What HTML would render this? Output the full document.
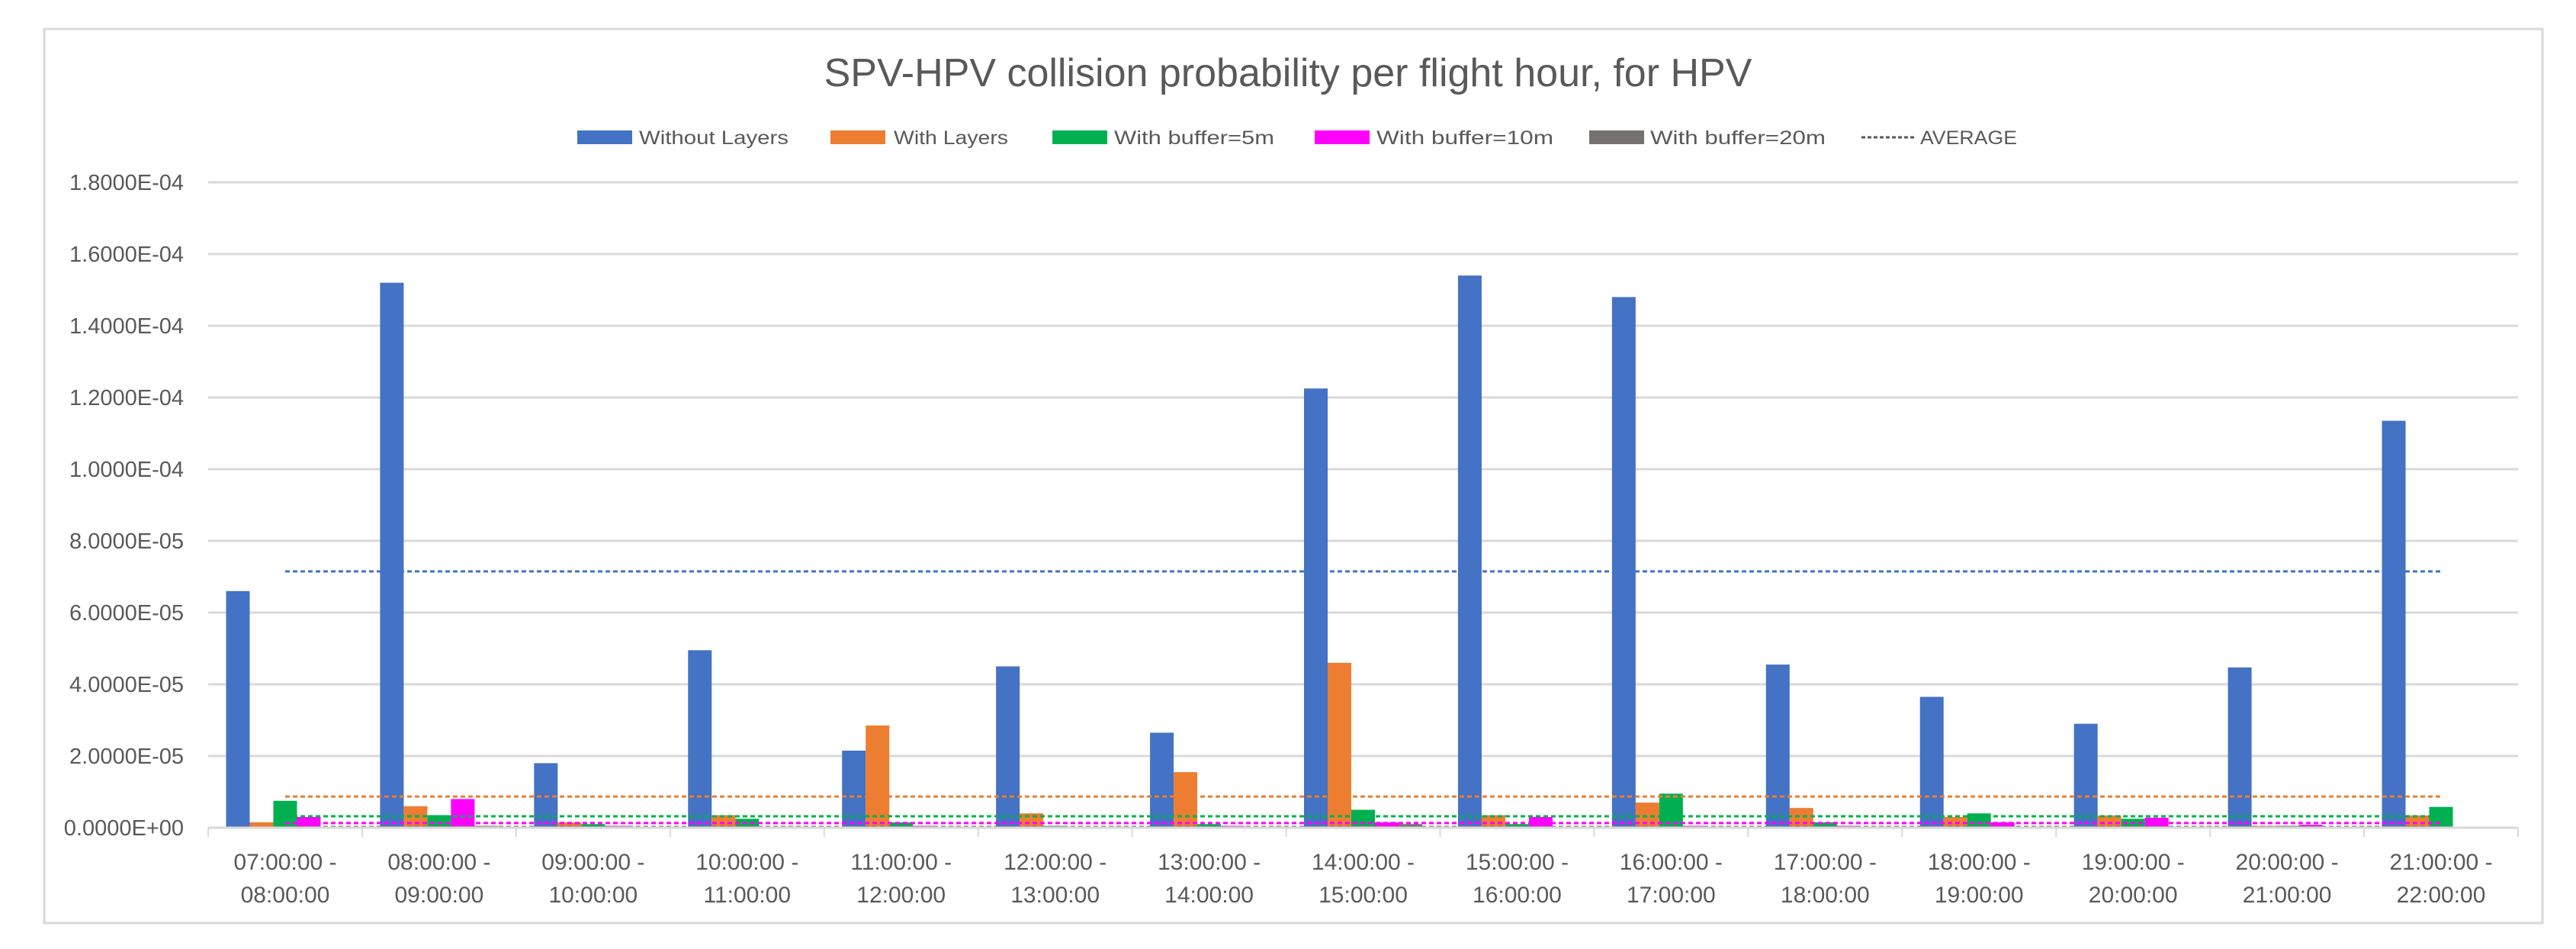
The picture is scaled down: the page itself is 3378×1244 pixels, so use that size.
<!DOCTYPE html>
<html><head><meta charset="utf-8"><style>
html,body{margin:0;padding:0;background:#fff;}
svg{display:block;font-family:"Liberation Sans",sans-serif;}
</style></head><body>
<svg id="chart" width="3378" height="1244" viewBox="0 0 3378 1244" xmlns="http://www.w3.org/2000/svg">
<rect x="58" y="38" width="3276" height="1172" fill="#fff" stroke="#d9d9d9" stroke-width="3"/>
<text x="1689" y="113" text-anchor="middle" font-size="52" fill="#595959">SPV-HPV collision probability per flight hour, for HPV</text>
<g id="legend"></g>
<g id="grid"></g>
<g id="yaxis"></g>
<g id="bars"></g>
<g id="avgs"></g>
<g id="xaxis"></g>
</svg>
<script>
const categories = ["07:00:00 - 08:00:00","08:00:00 - 09:00:00","09:00:00 - 10:00:00","10:00:00 - 11:00:00","11:00:00 - 12:00:00","12:00:00 - 13:00:00","13:00:00 - 14:00:00","14:00:00 - 15:00:00","15:00:00 - 16:00:00","16:00:00 - 17:00:00","17:00:00 - 18:00:00","18:00:00 - 19:00:00","19:00:00 - 20:00:00","20:00:00 - 21:00:00","21:00:00 - 22:00:00"];
const withoutLayers = [6.6e-5,15.2e-5,1.8e-5,4.95e-5,2.15e-5,4.5e-5,2.65e-5,12.25e-5,15.4e-5,14.8e-5,4.55e-5,3.65e-5,2.9e-5,4.47e-5,11.35e-5];
const withLayers = [0.15e-5,0.6e-5,0.15e-5,0.35e-5,2.85e-5,0.4e-5,1.55e-5,4.6e-5,0.35e-5,0.7e-5,0.55e-5,0.3e-5,0.34e-5,0.05e-5,0.34e-5];
const buffer5 = [0.75e-5,0.35e-5,0.1e-5,0.25e-5,0.15e-5,0.05e-5,0.1e-5,0.5e-5,0.1e-5,0.95e-5,0.15e-5,0.4e-5,0.25e-5,0.05e-5,0.58e-5];
const buffer10 = [0.3e-5,0.8e-5,0.05e-5,0.02e-5,0.05e-5,0.02e-5,0.05e-5,0.15e-5,0.3e-5,0.05e-5,0.05e-5,0.15e-5,0.28e-5,0.08e-5,0.0];
const buffer20 = [0.0,0.05e-5,0.0,0.0,0.0,0.0,0.0,0.1e-5,0.0,0.0,0.0,0.0,0.0,0.0,0.0];
const averages = [7.15e-5,0.87e-5,0.32e-5,0.13e-5,0.02e-5];
const yTicks = [0,2e-5,4e-5,6e-5,8e-5,1e-4,1.2e-4,1.4e-4,1.6e-4,1.8e-4];
const yTickLabels = ["0.0000E+00","2.0000E-05","4.0000E-05","6.0000E-05","8.0000E-05","1.0000E-04","1.2000E-04","1.4000E-04","1.6000E-04","1.8000E-04"];
const seriesNames = ["Without Layers","With Layers","With buffer=5m","With buffer=10m","With buffer=20m"];

const colors = ["#4472c4","#ed7d31","#00b050","#ff00ff","#767171"];
const NS="http://www.w3.org/2000/svg";
const X0=273, X1=3302, Y0=1085, YTOP=239, YMAX=1.8e-4;
const catW=(X1-X0)/categories.length;
const y=v=>Y0-(v/YMAX)*(Y0-YTOP);
const xc=i=>X0+catW*(i+0.5);
function mk(tag,attrs,parent){const e=document.createElementNS(NS,tag);for(const k in attrs)e.setAttribute(k,attrs[k]);parent.appendChild(e);return e;}

const grid=document.getElementById('grid'), yax=document.getElementById('yaxis');
yTicks.forEach((t,i)=>{
  if(i>0){const l=mk('line',{x1:X0,x2:X1,y1:y(t),y2:y(t),stroke:'#d9d9d9','stroke-width':3},grid);
  
  }
  const tx=mk('text',{x:241,y:y(t)+10,'text-anchor':'end','font-size':29,fill:'#595959'},yax);
  tx.textContent=yTickLabels[i];
  
  
});

const series=[withoutLayers,withLayers,buffer5,buffer10,buffer20];
const bars=document.getElementById('bars');
const bw=31, groupW=bw*5;
categories.forEach((c,i)=>{
  series.forEach((s,k)=>{
    const x=xc(i)-groupW/2+k*bw, top=y(s[i]);
    const r=mk('rect',{x:x,y:top,width:bw,height:Math.max(0,Y0-top),fill:colors[k]},bars);
    
    
  });
});

const avgs=document.getElementById('avgs');
averages.forEach((a,k)=>{
  const l=mk('line',{x1:xc(0),x2:xc(categories.length-1),y1:y(a),y2:y(a),stroke:colors[k],'stroke-width':3,'stroke-dasharray':'6 4'},avgs);
  
  
});

const xax=document.getElementById('xaxis');
const ax=mk('line',{x1:X0,x2:X1,y1:Y0,y2:Y0,stroke:'#d9d9d9','stroke-width':3},xax);


for(let i=0;i<=categories.length;i++){
  const t=mk('line',{x1:X0+catW*i,x2:X0+catW*i,y1:Y0,y2:Y0+12,stroke:'#d9d9d9','stroke-width':2},xax);
  
  
}
categories.forEach((c,i)=>{
  const parts=c.split(' - ');
  const t1=mk('text',{x:xc(i),y:1140,'text-anchor':'middle','font-size':30,fill:'#595959'},xax);
  t1.textContent=parts[0]+' -';
  
  
  const t2=mk('text',{x:xc(i),y:1183,'text-anchor':'middle','font-size':30,fill:'#595959'},xax);
  t2.textContent=parts[1];
  
  
});

const leg=document.getElementById('legend');
const legSw=[757,1089,1380,1724,2084], legTx=[838,1172,1461,1805,2164], legTw=[196,150,210,232,230];
seriesNames.forEach((n,k)=>{
  const r=mk('rect',{x:legSw[k],y:171,width:72,height:18,fill:colors[k]},leg);
  
  
  const t=mk('text',{x:legTx[k],y:189,'font-size':25,fill:'#595959',textLength:legTw[k],lengthAdjust:'spacingAndGlyphs'},leg);
  t.textContent=n;
  
  
});
const dl=mk('line',{x1:2441,x2:2510,y1:180,y2:180,stroke:'#595959','stroke-width':3,'stroke-dasharray':'5 3'},leg);


const at=mk('text',{x:2518,y:189,'font-size':25,fill:'#595959',textLength:127,lengthAdjust:'spacingAndGlyphs'},leg);
at.textContent='AVERAGE';


</script>
</body></html>
